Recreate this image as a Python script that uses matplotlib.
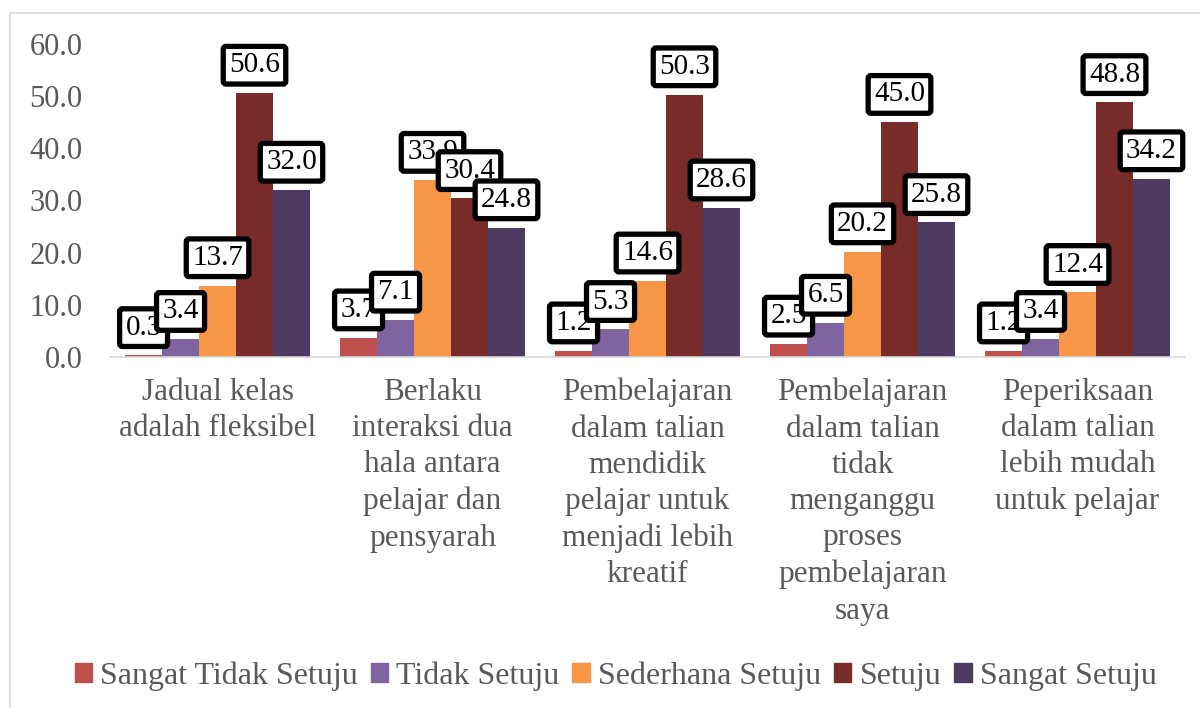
import matplotlib
matplotlib.use("Agg")
import matplotlib.pyplot as plt
import numpy as np
from matplotlib.patches import Rectangle, Patch

categories = [
    "Jadual kelas\nadalah fleksibel",
    "Berlaku\ninteraksi dua\nhala antara\npelajar dan\npensyarah",
    "Pembelajaran\ndalam talian\nmendidik\npelajar untuk\nmenjadi lebih\nkreatif",
    "Pembelajaran\ndalam talian\ntidak\nmenganggu\nproses\npembelajaran\nsaya",
    "Peperiksaan\ndalam talian\nlebih mudah\nuntuk pelajar",
]
series_names = ["Sangat Tidak Setuju", "Tidak Setuju", "Sederhana Setuju", "Setuju", "Sangat Setuju"]
sangat_tidak_setuju = [0.3, 3.7, 1.2, 2.5, 1.2]
tidak_setuju = [3.4, 7.1, 5.3, 6.5, 3.4]
sederhana_setuju = [13.7, 33.9, 14.6, 20.2, 12.4]
setuju = [50.6, 30.4, 50.3, 45.0, 48.8]
sangat_setuju = [32.0, 24.8, 28.6, 25.8, 34.2]
series = [sangat_tidak_setuju, tidak_setuju, sederhana_setuju, setuju, sangat_setuju]
colors = ["#C0504D", "#8064A2", "#F79646", "#772C2A", "#4D3B62"]
yticks = [0, 10, 20, 30, 40, 50, 60]

plt.rcParams['font.family'] = ['Liberation Serif', 'DejaVu Serif']
fig = plt.figure(figsize=(12, 7.08), dpi=100)
ax = fig.add_axes([0.0917, 0.4958, 0.8958, 0.4421])

# outer chart border (left/top visible)
fig.patches.append(Rectangle((10/1200, -0.1), 1.2, 1 - 13/708 + 0.1, transform=fig.transFigure,
                             fill=False, edgecolor="#D9D9D9", linewidth=1.2))

n = len(series)
x = np.arange(len(categories))
width = 0.172
for i, (vals, c) in enumerate(zip(series, colors)):
    pos = x + (i - (n - 1) / 2) * width
    ax.bar(pos, vals, width=width, color=c, label=series_names[i], zorder=2)
    for px, v in zip(pos, vals):
        ax.annotate(f"{v:.1f}", (px, v), xytext=(0, 20), textcoords="offset points",
                    ha="center", va="center", fontsize=21, color="black", zorder=5,
                    bbox=dict(boxstyle="round,pad=0.2,rounding_size=0.1", fc="white",
                              ec="black", lw=3.8))

ax.set_xlim(-0.5, len(categories) - 0.5)
ax.set_ylim(0, 60)
ax.set_yticks(yticks)
ax.set_yticklabels([f"{t:.1f}" for t in yticks], fontsize=22, color="#595959")
ax.set_xticks(x)
ax.set_xticklabels(categories, fontsize=22.5, color="#595959", linespacing=1.33, va="top")
ax.tick_params(axis="both", length=0)
ax.tick_params(axis="y", pad=20)
ax.tick_params(axis="x", pad=15)
for s in ["top", "right", "left"]:
    ax.spines[s].set_visible(False)
ax.spines["bottom"].set_color("#D9D9D9")
ax.spines["bottom"].set_linewidth(1.2)

handles = [Patch(color=c) for c in colors]
fig.legend(handles, series_names, loc="center", bbox_to_anchor=(0.513, 1 - 676/708), ncol=5,
           frameon=False, fontsize=23, labelcolor="#595959", handlelength=0.55, handleheight=0.55,
           handletextpad=0.25, columnspacing=0.4)

fig.savefig("out.png", dpi=100)
